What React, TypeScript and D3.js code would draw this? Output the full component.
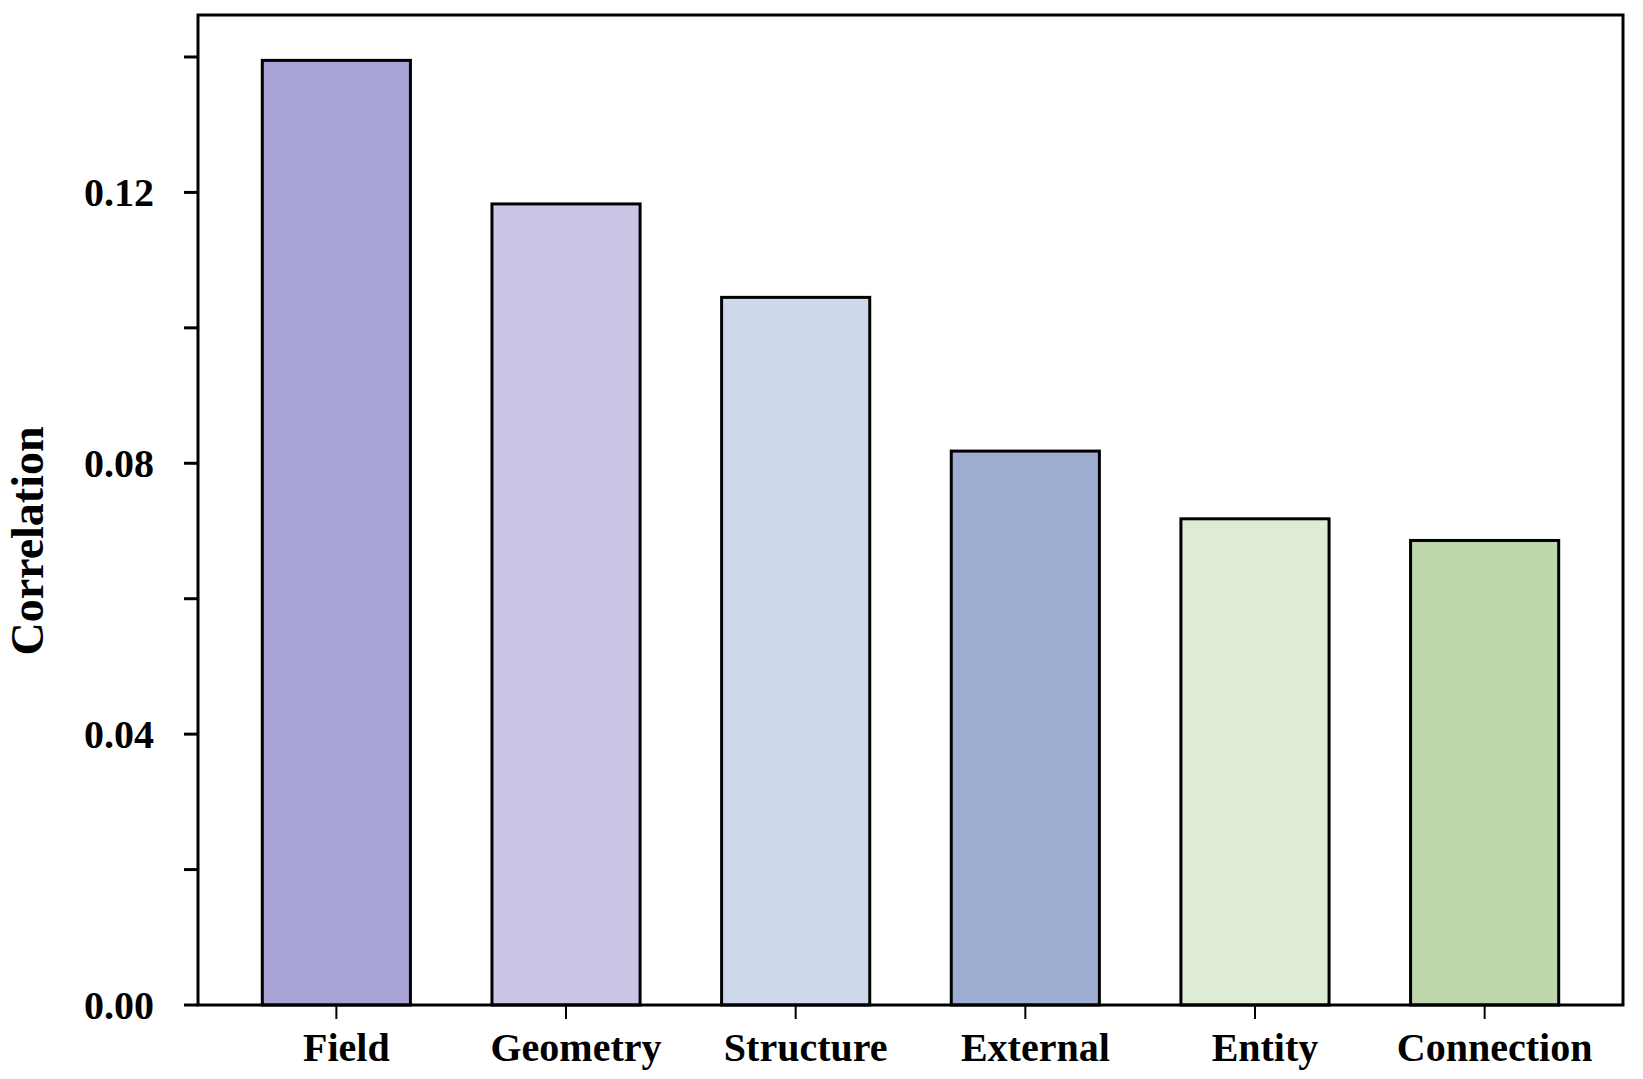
import React from "react";
import * as d3 from "d3";

const categories = ["Field", "Geometry", "Structure", "External", "Entity", "Connection"];
const values = [0.1395, 0.1183, 0.1045, 0.0818, 0.0718, 0.0686];
const colors = ["#A7A3D5", "#CAC7E6", "#CFD8EA", "#9EAED2", "#DDECD2", "#BED6AB"];
const majorTicks = [0, 0.04, 0.08, 0.12];
const minorTicks = [0.02, 0.06, 0.1, 0.14];
const yTitle = "Correlation";

const W = 1643;
const H = 1079;
const left = 198;
const right = 1623;
const top = 15;
const bottom = 1005;
const font = "'Liberation Serif', 'Times New Roman', serif";

export default function App() {
  const x = d3.scaleBand<string>().domain(categories).range([left, right]).paddingInner(0.355).paddingOuter(0.28);
  const y = d3.scaleLinear().domain([0, 0.1462]).range([bottom, top]);
  const fmt = d3.format(".2f");
  return (
    <svg width={W} height={H} style={{ position: "absolute", left: 0, top: 0, background: "#fff" }}>
      <rect x={0} y={0} width={W} height={H} fill="#fff" />
      {categories.map((c, i) => (
        <rect
          key={c}
          x={x(c)!}
          y={y(values[i])}
          width={x.bandwidth()}
          height={y(0) - y(values[i])}
          fill={colors[i]}
          stroke="#000"
          strokeWidth={3}
        />
      ))}
      <rect x={left} y={top} width={right - left} height={bottom - top} fill="none" stroke="#000" strokeWidth={3} />
      {majorTicks.concat(minorTicks).map((t) => (
        <line key={"t" + t} x1={left - 14} x2={left} y1={y(t)} y2={y(t)} stroke="#000" strokeWidth={3} />
      ))}
      {majorTicks.map((t) => (
        <text
          key={"l" + t}
          x={left - 44}
          y={y(t)}
          dy="0.35em"
          textAnchor="end"
          fontFamily={font}
          fontWeight="bold"
          fontSize={40}
          fill="#000"
        >
          {fmt(t)}
        </text>
      ))}
      {categories.map((c) => (
        <g key={"x" + c}>
          <line
            x1={x(c)! + x.bandwidth() / 2}
            x2={x(c)! + x.bandwidth() / 2}
            y1={bottom}
            y2={bottom + 14}
            stroke="#000"
            strokeWidth={2}
          />
          <text
            x={x(c)! + x.bandwidth() / 2 + 10}
            y={1061}
            textAnchor="middle"
            fontFamily={font}
            fontWeight="bold"
            fontSize={40}
            fill="#000"
          >
            {c}
          </text>
        </g>
      ))}
      <text
        transform={`translate(43, ${(top + bottom) / 2 + 31}) rotate(-90)`}
        textAnchor="middle"
        fontFamily={font}
        fontWeight="bold"
        fontSize={46}
        fill="#000"
      >
        {yTitle}
      </text>
    </svg>
  );
}
